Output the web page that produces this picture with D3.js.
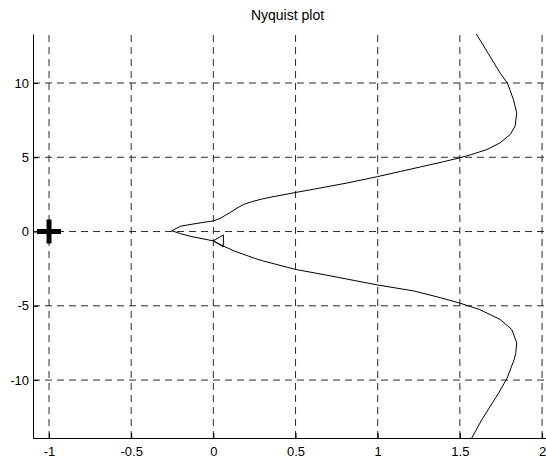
<!DOCTYPE html>
<html>
<head>
<meta charset="utf-8">
<script src="https://cdn.jsdelivr.net/npm/d3@7/dist/d3.min.js"></script>
<style>
  body { margin: 0; background: #fff; }
  svg text { font-family: "Liberation Sans", Arial, sans-serif; fill: #000; }
</style>
</head>
<body>
<div id="chart"></div>
<script>
var reUpper = [1.60, 1.684, 1.745, 1.789, 1.826, 1.846, 1.836, 1.806, 1.745, 1.664, 1.572, 1.501,
               1.40, 1.26, 1.14, 1.00, 0.81, 0.61, 0.50, 0.37, 0.30, 0.24, 0.19, 0.15, 0.10, 0.04, 0.00,
               -0.10, -0.20, -0.253];
var imUpper = [13.3, 11.78, 10.67, 10.0, 8.88, 7.99, 7.09, 6.53, 5.97, 5.52, 5.19, 4.97,
               4.70, 4.35, 4.05, 3.70, 3.26, 2.85, 2.63, 2.36, 2.20, 2.03, 1.85, 1.62, 1.27, 0.88, 0.72,
               0.55, 0.36, 0.05];
var reLower = [-0.20, -0.14, 0.00, 0.06, 0.12, 0.18, 0.25, 0.30, 0.50, 0.71, 1.00, 1.22, 1.38, 1.50, 1.62,
               1.745, 1.816, 1.846, 1.840, 1.83, 1.786, 1.735, 1.70, 1.633, 1.572];
var imLower = [-0.14, -0.32, -0.63, -0.97, -1.28, -1.52, -1.80, -1.97, -2.55, -2.98, -3.60, -4.00, -4.45, -4.82, -5.25,
               -5.92, -6.60, -7.50, -8.20, -8.63, -9.90, -10.88, -11.50, -12.68, -13.90];
var arrowAt = [0.0, -0.63];      // arrow marker on the lower branch
var critical = [-1, 0];          // the -1 point
var xTicks = [-1, -0.5, 0, 0.5, 1, 1.5, 2];
var yTicks = [-10, -5, 0, 5, 10];

var width = 546, height = 461;
var padL = 33, padR = 546, padT = 34, padB = 438;

var x = d3.scaleLinear().domain([-1.0975, 2.024]).range([padL, padR]);
var y = d3.scaleLinear().domain([-13.9, 13.3]).range([padB, padT]);

var svg = d3.select("#chart").append("svg")
    .attr("width", width)
    .attr("height", height);

svg.append("defs").append("clipPath").attr("id", "clip")
  .append("rect")
    .attr("x", padL).attr("y", padT)
    .attr("width", padR - padL).attr("height", padB - padT);

// grid
svg.append("g").selectAll("line").data(xTicks).enter().append("line")
    .attr("x1", function(d) { return x(d); })
    .attr("x2", function(d) { return x(d); })
    .attr("y1", padT + 1).attr("y2", padB)
    .attr("stroke", "#2a2a2a").attr("stroke-width", 1)
    .attr("stroke-dasharray", "7,5");
svg.append("g").selectAll("line").data(yTicks).enter().append("line")
    .attr("y1", function(d) { return y(d); })
    .attr("y2", function(d) { return y(d); })
    .attr("x1", padL).attr("x2", padR)
    .attr("stroke", "#2a2a2a").attr("stroke-width", 1)
    .attr("stroke-dasharray", "7,5");

// axes (only left and bottom)
var xAxis = svg.append("g")
    .attr("transform", "translate(0," + padB + ")")
    .call(d3.axisBottom(x).tickValues(xTicks).tickFormat(function(d) { return String(d); })
      .tickSizeInner(-5).tickSizeOuter(0).tickPadding(9));
var yAxis = svg.append("g")
    .attr("transform", "translate(" + padL + ",0)")
    .call(d3.axisLeft(y).tickValues(yTicks).tickFormat(function(d) { return String(d); })
      .tickSizeInner(-5).tickSizeOuter(0).tickPadding(4));
[xAxis, yAxis].forEach(function(a) {
  a.select(".domain").attr("stroke", "#000");
  a.selectAll(".tick line").attr("stroke", "#000");
  a.selectAll("text").attr("font-size", 13).attr("font-family", "Liberation Sans, Arial, sans-serif");
});

// nyquist curve
var pts = reUpper.map(function(r, i) { return [r, imUpper[i]]; })
  .concat(reLower.map(function(r, i) { return [r, imLower[i]]; }));
var line = d3.line()
    .x(function(d) { return x(d[0]); })
    .y(function(d) { return y(d[1]); });
svg.append("path")
    .datum(pts)
    .attr("clip-path", "url(#clip)")
    .attr("d", line)
    .attr("fill", "none")
    .attr("stroke", "#000")
    .attr("stroke-width", 1);

// arrow
var ax = x(arrowAt[0]), ay = y(arrowAt[1]);
svg.append("path")
    .attr("d", "M" + ax + "," + ay + "L" + (ax + 10) + "," + (ay - 6) + "L" + (ax + 10) + "," + (ay + 6) + "Z")
    .attr("fill", "none")
    .attr("stroke", "#000")
    .attr("stroke-width", 1);

// -1 point marker
var cx = x(critical[0]), cy = y(critical[1]);
svg.append("path")
    .attr("d", "M" + (cx - 12) + "," + cy + "H" + (cx + 12) + "M" + cx + "," + (cy - 12) + "V" + (cy + 12))
    .attr("stroke", "#000")
    .attr("stroke-width", 5);

// title
svg.append("text")
    .attr("x", (padL + x(2)) / 2)
    .attr("y", 20)
    .attr("text-anchor", "middle")
    .attr("font-size", 14)
    .text("Nyquist plot");
</script>
</body>
</html>
